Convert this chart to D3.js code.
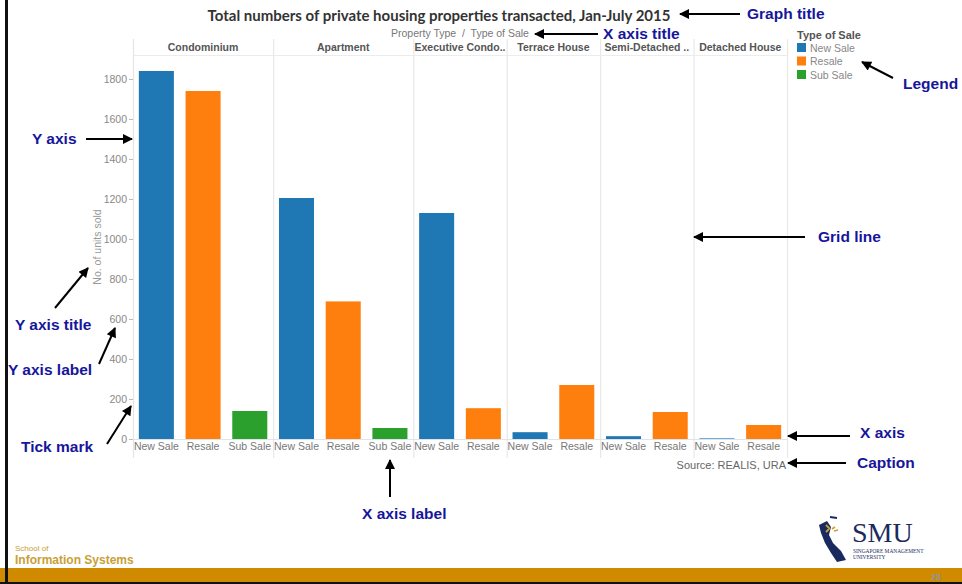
<!DOCTYPE html>
<html>
<head>
<meta charset="utf-8">
<script src="https://cdn.jsdelivr.net/npm/d3@7"></script>
<style>
  html, body { margin: 0; padding: 0; background: #fff; }
  svg { display: block; }
</style>
</head>
<body>
<svg id="chart" width="962" height="584"></svg>
<script>
// ---- data ----
const categories = ["Condominium", "Apartment", "Executive Condo..", "Terrace House", "Semi-Detached ..", "Detached House"];
const saleTypes = ["New Sale", "Resale", "Sub Sale"];
const newSale = [1840, 1205, 1130, 34, 14, 3];
const resale  = [1740, 688, 154, 270, 135, 70];
const subSale = [140, 55, null, null, null, null];
const yTicks = [0, 200, 400, 600, 800, 1000, 1200, 1400, 1600, 1800];

const title = "Total numbers of private housing properties transacted, Jan-July 2015";
const xTitle = "Property Type  /  Type of Sale";
const yTitle = "No. of units sold";
const caption = "Source: REALIS, URA";

// ---- layout ----
const W = 962, H = 584;
const plot = { left: 133, right: 787, top: 55, bottom: 439, headerTop: 39, labelBottom: 458 };
const colors = d3.scaleOrdinal().domain(saleTypes).range(["#1f77b4", "#ff7f0e", "#2ca02c"]);
const annColor = "#16169a";

const svg = d3.select("#chart");

// build one slot per (category, sale type) that has a value
const seriesByType = { "New Sale": newSale, "Resale": resale, "Sub Sale": subSale };
const slots = [];
categories.forEach((c, ci) => {
  saleTypes.forEach(t => {
    const v = seriesByType[t][ci];
    if (v !== null && v !== undefined) slots.push({ key: c + "|" + t, cat: c, type: t, value: v });
  });
});

const x = d3.scaleBand()
  .domain(slots.map(d => d.key))
  .range([plot.left, plot.right])
  .paddingInner(0.25)
  .paddingOuter(0.125);
const y = d3.scaleLinear().domain([0, 1920]).range([plot.bottom, plot.top]);
const step = x.step();
const half = (step - x.bandwidth()) / 2;

// pane extents per category
const panes = categories.map(c => {
  const s = slots.filter(d => d.cat === c);
  return { cat: c, x0: x(s[0].key) - half, x1: x(s[s.length - 1].key) + x.bandwidth() + half };
});

// ---- slide frame ----
svg.append("rect").attr("x", 0).attr("y", 0).attr("width", W).attr("height", H).attr("fill", "#fff");
svg.append("rect").attr("x", 0).attr("y", 568).attr("width", W).attr("height", 14).attr("fill", "#cf8a00");
svg.append("rect").attr("x", 0).attr("y", 582).attr("width", W).attr("height", 2).attr("fill", "#111");
svg.append("rect").attr("x", 5).attr("y", 0).attr("width", 3).attr("height", 584).attr("fill", "#111");
svg.append("text").attr("x", 936).attr("y", 580).attr("text-anchor", "middle")
  .attr("font-family", "Liberation Sans, Arial, sans-serif").attr("font-size", 9).attr("fill", "#6f9ad8").text("23");

// school label
svg.append("text").attr("x", 15).attr("y", 551)
  .attr("font-family", "Liberation Sans, Arial, sans-serif").attr("font-size", 8).attr("fill", "#c9a035").text("School of");
svg.append("text").attr("x", 15).attr("y", 564)
  .attr("font-family", "Liberation Sans, Arial, sans-serif").attr("font-size", 12).attr("font-weight", "bold")
  .attr("fill", "#c9a035").text("Information Systems");

// university mark
const logo = svg.append("g").attr("transform", "translate(817,517)");
logo.append("path")
  .attr("d", "M2,8 L10,4 L14,10 L12,18 L16,26 L24,34 L29,43 L20,45 L14,36 L8,26 L4,16 Z")
  .attr("fill", "#1b2a5e");
logo.append("path").attr("d", "M13,0 L20,1").attr("stroke", "#1b2a5e").attr("stroke-width", 2);
logo.append("path").attr("d", "M9,8 L13,12 M12,12 L9,15 M15,12 L18,10 M17,14 L21,13")
  .attr("stroke", "#c9a035").attr("stroke-width", 1.8).attr("fill", "none");
logo.append("text").attr("x", 35).attr("y", 25)
  .attr("font-family", "Liberation Serif, Times New Roman, serif").attr("font-size", 28).attr("fill", "#1b2a5e").text("SMU");
logo.append("text").attr("x", 36).attr("y", 36)
  .attr("font-family", "Liberation Serif, Times New Roman, serif").attr("font-size", 5.4).attr("fill", "#1b2a5e").text("SINGAPORE MANAGEMENT");
logo.append("text").attr("x", 36).attr("y", 42)
  .attr("font-family", "Liberation Serif, Times New Roman, serif").attr("font-size", 5.4).attr("fill", "#1b2a5e").text("UNIVERSITY");

// ---- chart ----
const font = "Liberation Sans, Arial, sans-serif";

// title
svg.append("text").attr("x", 439).attr("y", 21).attr("text-anchor", "middle")
  .attr("font-family", "Lato, Open Sans, sans-serif").attr("font-weight", "bold").attr("font-size", 15)
  .attr("fill", "#333").text(title);

// x axis title
svg.append("text").attr("x", (plot.left + plot.right) / 2).attr("y", 37).attr("text-anchor", "middle")
  .attr("font-family", font).attr("font-size", 10.5).attr("fill", "#777").style("white-space", "pre").text(xTitle);

// pane separators (grid lines)
const gridG = svg.append("g");
gridG.selectAll("line.sep")
  .data(panes.slice(1))
  .join("line")
  .attr("x1", d => d.x0 + 0.5).attr("x2", d => d.x0 + 0.5)
  .attr("y1", plot.headerTop).attr("y2", plot.labelBottom)
  .attr("stroke", "#e8e8e8").attr("stroke-width", 1.2);
gridG.append("line")
  .attr("x1", plot.right + 0.5).attr("x2", plot.right + 0.5)
  .attr("y1", plot.headerTop).attr("y2", plot.labelBottom)
  .attr("stroke", "#e8e8e8").attr("stroke-width", 1.2);
// header underline
gridG.append("line")
  .attr("x1", plot.left).attr("x2", plot.right)
  .attr("y1", plot.top + 0.5).attr("y2", plot.top + 0.5)
  .attr("stroke", "#ececec");
// zero line
gridG.append("line")
  .attr("x1", plot.left).attr("x2", plot.right)
  .attr("y1", y(0) + 0.5).attr("y2", y(0) + 0.5)
  .attr("stroke", "#dde4ec");

// category headers
svg.append("g").selectAll("text")
  .data(panes)
  .join("text")
  .attr("x", d => (d.x0 + d.x1) / 2).attr("y", 51).attr("text-anchor", "middle")
  .attr("font-family", font).attr("font-weight", "bold").attr("font-size", 10.5).attr("fill", "#555")
  .text(d => d.cat);

// bars
svg.append("g").selectAll("rect")
  .data(slots)
  .join("rect")
  .attr("x", d => x(d.key))
  .attr("width", x.bandwidth())
  .attr("y", d => y(d.value))
  .attr("height", d => y(0) - y(d.value))
  .attr("fill", d => colors(d.type));

// y axis
const yAxis = d3.axisLeft(y).tickValues(yTicks).tickFormat(d3.format("d")).tickSize(4).tickPadding(2);
const yG = svg.append("g").attr("transform", `translate(${plot.left},0)`).call(yAxis);
yG.select(".domain").remove();
yG.selectAll(".tick line").attr("stroke", "#bbb");
yG.selectAll(".tick text").attr("font-family", font).attr("font-size", 10.5).attr("fill", "#888");
svg.append("line")
  .attr("x1", plot.left + 0.5).attr("x2", plot.left + 0.5)
  .attr("y1", plot.headerTop).attr("y2", plot.labelBottom)
  .attr("stroke", "#e4e4e4").attr("stroke-width", 1.2);

// y title, centred on the plot height
svg.append("text")
  .attr("transform", `translate(101,${(plot.top + plot.bottom) / 2}) rotate(-90)`)
  .attr("text-anchor", "middle")
  .attr("font-family", font).attr("font-size", 10.5).attr("fill", "#999").text(yTitle);

// x axis labels
const xAxis = d3.axisBottom(x).tickSize(0).tickPadding(4).tickFormat(k => k.split("|")[1]);
const xG = svg.append("g").attr("transform", `translate(0,${y(0)})`).call(xAxis);
xG.select(".domain").remove();
xG.selectAll(".tick text").attr("font-family", font).attr("font-size", 10.5).attr("fill", "#777");

// caption
svg.append("text").attr("x", plot.right - 1).attr("y", 469).attr("text-anchor", "end")
  .attr("font-family", font).attr("font-size", 11).attr("fill", "#666").text(caption);

// legend
const legend = svg.append("g").attr("transform", "translate(797,0)");
legend.append("text").attr("x", 0).attr("y", 39)
  .attr("font-family", font).attr("font-weight", "bold").attr("font-size", 11).attr("fill", "#555").text("Type of Sale");
const li = legend.selectAll("g.item").data(saleTypes).join("g")
  .attr("transform", (d, i) => `translate(0,${43 + i * 13.5})`);
li.append("rect").attr("width", 9).attr("height", 9).attr("fill", d => colors(d));
li.append("text").attr("x", 13).attr("y", 8.5)
  .attr("font-family", font).attr("font-size", 10.5).attr("fill", "#888").text(d => d);

// ---- annotations ----
const defs = svg.append("defs");
defs.append("marker").attr("id", "head").attr("viewBox", "0 0 10 10")
  .attr("refX", 9).attr("refY", 5).attr("markerWidth", 7).attr("markerHeight", 5)
  .attr("markerUnits", "strokeWidth").attr("orient", "auto")
  .append("path").attr("d", "M0,0 L10,5 L0,10 Z").attr("fill", "#000");

const annotations = [
  { text: "Graph title",  tx: 747, ty: 19,  from: [740, 14],  to: [680, 14] },
  { text: "X axis title", tx: 603, ty: 39,  from: [598, 34],  to: [535, 34] },
  { text: "Legend",       tx: 903, ty: 89,  from: [893, 78],  to: [862, 62] },
  { text: "Y axis",       tx: 32,  ty: 144, from: [86, 139],  to: [132, 139] },
  { text: "Grid line",    tx: 818, ty: 242, from: [805, 237], to: [694, 237] },
  { text: "Y axis title", tx: 15,  ty: 330, from: [55, 308],  to: [88, 268] },
  { text: "Y axis label", tx: 8,   ty: 375, from: [99, 364],  to: [115, 328] },
  { text: "Tick mark",    tx: 21,  ty: 452, from: [107, 444], to: [131, 406] },
  { text: "X axis label", tx: 362, ty: 519, from: [390, 497], to: [390, 460] },
  { text: "X axis",       tx: 860, ty: 438, from: [850, 436], to: [788, 436] },
  { text: "Caption",      tx: 857, ty: 468, from: [846, 463], to: [788, 463] }
];
const ann = svg.append("g");
ann.selectAll("line").data(annotations).join("line")
  .attr("x1", d => d.from[0]).attr("y1", d => d.from[1])
  .attr("x2", d => d.to[0]).attr("y2", d => d.to[1])
  .attr("stroke", "#000").attr("stroke-width", 2).attr("marker-end", "url(#head)");
ann.selectAll("text").data(annotations).join("text")
  .attr("x", d => d.tx).attr("y", d => d.ty)
  .attr("font-family", font).attr("font-weight", "bold").attr("font-size", 15.5)
  .attr("fill", annColor).text(d => d.text);
</script>
</body>
</html>
